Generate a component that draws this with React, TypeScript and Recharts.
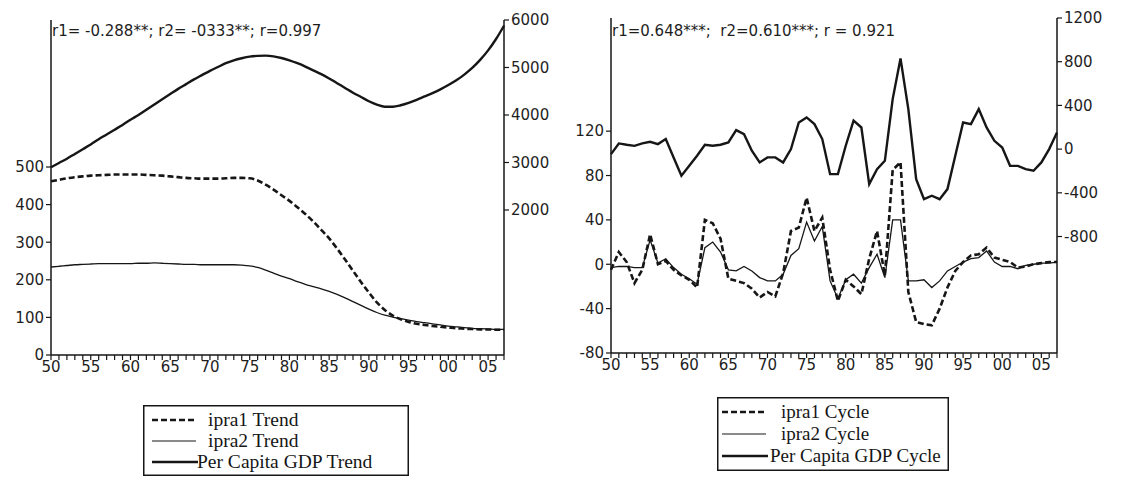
import React from 'react';
import { LineChart, Line, XAxis, YAxis, Legend } from 'recharts';

const years = [
  1950, 1951, 1952, 1953, 1954, 1955, 1956, 1957, 1958, 1959,
  1960, 1961, 1962, 1963, 1964, 1965, 1966, 1967, 1968, 1969,
  1970, 1971, 1972, 1973, 1974, 1975, 1976, 1977, 1978, 1979,
  1980, 1981, 1982, 1983, 1984, 1985, 1986, 1987, 1988, 1989,
  1990, 1991, 1992, 1993, 1994, 1995, 1996, 1997, 1998, 1999,
  2000, 2001, 2002, 2003, 2004, 2005, 2006, 2007,
];

// trend panel (left axis: ipra, right axis: GDP)
const ipra1Trend = [
  462, 466, 470, 473, 475, 477, 478, 479, 480, 480,
  480, 480, 479, 478, 477, 475, 473, 471, 470, 469,
  469, 469, 470, 471, 471, 470, 464, 453, 440, 425,
  410, 393, 375, 355, 333, 310, 283, 254, 224, 194,
  166, 140, 120, 105, 95, 88, 83, 80, 77, 75,
  73, 71, 70, 69, 68, 68, 67, 67,
];
const ipra2Trend = [
  234, 236, 238, 240, 241, 242, 243, 243, 243, 243,
  243, 244, 244, 245, 244, 243, 242, 241, 241, 240,
  240, 240, 240, 240, 239, 237, 233, 226, 218, 210,
  203, 195, 188, 182, 176, 169, 161, 152, 142, 132,
  122, 113, 106, 101, 97, 93, 89, 86, 83, 80,
  77, 75, 73, 71, 70, 69, 68, 68,
];
const gdpTrend = [
  2900, 2990, 3080, 3180, 3280, 3380, 3490, 3590, 3690, 3790,
  3900, 4000, 4110, 4220, 4330, 4440, 4550, 4650, 4750, 4840,
  4930, 5010, 5090, 5150, 5195, 5230, 5245, 5250, 5235, 5200,
  5150, 5090, 5020, 4940, 4860, 4770, 4670, 4570, 4470, 4380,
  4290, 4220, 4175, 4175, 4205, 4255, 4320, 4390, 4460, 4540,
  4630, 4730, 4850, 4990, 5160, 5360, 5600, 5880,
];

// cycle panel
const ipra1Cycle = [
  -5, 11, 2, -17, -5, 27, 0, 3, -5, -10,
  -14, -21, 40, 37, 23, -13, -15, -17, -22, -30,
  -25, -29, -8, 30, 33, 60, 30, 42, -5, -33,
  -14, -20, -27, 5, 30, -10, 85, 92, -25, -52,
  -54, -55, -40, -21, -6, 2, 8, 9, 15, 6,
  4, 2, -3, -2, 0, 1, 2, 2,
];
const ipra2Cycle = [
  -3, -2, -2, -3, -3, 22, 1, 5, -3, -9,
  -13, -18, 15, 20, 11, -5, -6, -2, -6, -12,
  -15, -15, -9, 8, 14, 38, 21, 34, -15, -31,
  -14, -9, -17, -3, 9, -12, 40, 40, -15, -15,
  -14, -21, -15, -6, -2, 2, 5, 6, 12, 2,
  -2, -2, -4, -1, 0, 1, 1, 2,
];
const gdpCycle = [
  -46, 52, 40, 30, 52, 67, 46, 92, -76, -244,
  -153, -61, 40, 31, 40, 61, 174, 137, -15, -122,
  -76, -76, -122, 0, 244, 290, 229, 92, -229, -229,
  31, 260, 198, -320, -183, -107, 458, 830, 366, -275,
  -458, -427, -458, -366, -61, 244, 229, 366, 198, 76,
  15, -153, -153, -183, -198, -122, 0, 153,
];

const trendTicks = [0, 100, 200, 300, 400, 500];
const gdpTrendTicks = [2000, 3000, 4000, 5000, 6000];
const cycleTicks = [-80, -40, 0, 40, 80, 120];
const gdpCycleTicks = [-800, -400, 0, 400, 800, 1200];

const trendNote = 'r1= -0.288**; r2= -0333**; r=0.997';
const cycleNote = 'r1=0.648***;  r2=0.610***; r = 0.921';
const trendLabels = ['ipra1 Trend', 'ipra2 Trend', 'Per Capita GDP Trend'];
const cycleLabels = ['ipra1 Cycle', 'ipra2 Cycle', 'Per Capita GDP Cycle'];

const trendData = years.map((yr, i) => ({
  year: yr, ipra1: ipra1Trend[i], ipra2: ipra2Trend[i], gdp: gdpTrend[i],
}));
const cycleData = years.map((yr, i) => ({
  year: yr, ipra1: ipra1Cycle[i], ipra2: ipra2Cycle[i], gdp: gdpCycle[i],
}));

const INK = '#161616';
const tickFont = { fontSize: 15, fontFamily: 'DejaVu Sans', fill: '#1e1e1e' };

const YearTick = (props: any) => {
  const { x, y, payload } = props;
  const yr = payload.value;
  if (yr % 5 !== 0) return <g />;
  return (
    <text x={x} y={y} dy="0.71em" textAnchor="middle" {...tickFont}>
      {String(yr % 100).padStart(2, '0')}
    </text>
  );
};

const LegendBox = ({ labels, w, h, rows, textX, lineX, size }: any) => (
  <svg width={w} height={h} style={{ display: 'block' }}>
    <rect x={0.75} y={0.75} width={w - 1.5} height={h - 1.5} fill="#fff" stroke={INK} strokeWidth={1.5} />
    <line x1={lineX[0]} x2={lineX[1]} y1={rows[0]} y2={rows[0]} stroke={INK} strokeWidth={2.6} strokeDasharray="6 3" />
    <line x1={lineX[0]} x2={lineX[1]} y1={rows[1]} y2={rows[1]} stroke={INK} strokeWidth={1.2} />
    <line x1={lineX[0]} x2={lineX[1] + 2} y1={rows[2]} y2={rows[2]} stroke={INK} strokeWidth={2.6} />
    {labels.map((t: string, i: number) => (
      <text key={t} x={textX[i]} y={rows[i]} dy="0.33em" fontFamily="Liberation Serif" fontSize={size} fill={INK}>
        {t}
      </text>
    ))}
  </svg>
);

const Note = ({ text, left }: { text: string; left: number }) => (
  <div style={{
    position: 'absolute', left, top: 22, fontFamily: 'DejaVu Sans', fontSize: 15,
    lineHeight: '18px', color: '#1e1e1e', whiteSpace: 'pre',
  }}>
    {text}
  </div>
);

const axisLine = { stroke: INK, strokeWidth: 1.5 };
const tickLine = { stroke: INK, strokeWidth: 1.2 };

const Panel = (props: any) => {
  const { data, width, margin, leftDomain, leftTicks, rightDomain, rightTicks, linear, legend } = props;
  const curve = linear ? 'linear' : 'monotone';
  return (
    <LineChart width={width} height={477} data={data} margin={margin}>
      <XAxis
        dataKey="year" type="number" domain={[1950, 2007]} ticks={years} interval={0}
        tick={<YearTick />} tickSize={5} tickMargin={1} height={30}
        axisLine={axisLine} tickLine={tickLine}
      />
      <XAxis
        xAxisId="top" orientation="top" type="number" domain={[1950, 2007]}
        tick={false} tickLine={false} height={0} axisLine={axisLine}
      />
      <YAxis
        yAxisId="left" domain={leftDomain} ticks={leftTicks} interval={0} width={45}
        tick={tickFont} tickSize={5} tickMargin={2} axisLine={axisLine} tickLine={tickLine}
      />
      <YAxis
        yAxisId="right" orientation="right" domain={rightDomain} ticks={rightTicks} interval={0} width={50}
        tick={{ ...tickFont, textAnchor: 'start' }} tickSize={5} tickMargin={2} axisLine={axisLine} tickLine={tickLine}
      />
      <Line yAxisId="left" type={curve} dataKey="ipra2" stroke={INK} strokeWidth={1.3} dot={false} isAnimationActive={false} />
      <Line yAxisId="left" type={curve} dataKey="ipra1" stroke={INK} strokeWidth={2.6} strokeDasharray="6 3" dot={false} isAnimationActive={false} />
      <Line yAxisId="right" type={curve} dataKey="gdp" stroke={INK} strokeWidth={2.4} dot={false} isAnimationActive={false} />
      <Legend
        layout="vertical" align="center" verticalAlign="middle"
        wrapperStyle={legend.style}
        content={() => <LegendBox {...legend} />}
      />
    </LineChart>
  );
};

export default function App() {
  return (
    <div style={{ position: 'absolute', left: 0, top: 0, width: 1121, height: 477, background: '#fff', overflow: 'hidden' }}>
      <div style={{ position: 'absolute', left: 0, top: 0 }}>
        <Panel
          data={trendData} width={560}
          margin={{ top: 20, right: 6, left: 6, bottom: 92 }}
          leftDomain={[0, 891]} leftTicks={trendTicks}
          rightDomain={[-1053, 6000]} rightTicks={gdpTrendTicks}
          legend={{
            labels: trendLabels, w: 266, h: 71, rows: [15, 36, 57], textX: [65, 65, 54], lineX: [9, 53], size: 19.5,
            style: { position: 'absolute', left: 143, top: 405, width: 266, height: 71 },
          }}
        />
        <Note text={trendNote} left={52} />
      </div>
      <div style={{ position: 'absolute', left: 560, top: 0 }}>
        <Panel
          data={cycleData} width={561} linear
          margin={{ top: 18, right: 14, left: 6, bottom: 94 }}
          leftDomain={[-80, 222]} leftTicks={cycleTicks}
          rightDomain={[-1866, 1200]} rightTicks={gdpCycleTicks}
          legend={{
            labels: cycleLabels, w: 232, h: 74, rows: [15, 37, 59], textX: [64, 64, 53], lineX: [5, 49], size: 19,
            style: { position: 'absolute', left: 157, top: 397, width: 232, height: 74 },
          }}
        />
        <Note text={cycleNote} left={52} />
      </div>
    </div>
  );
}
